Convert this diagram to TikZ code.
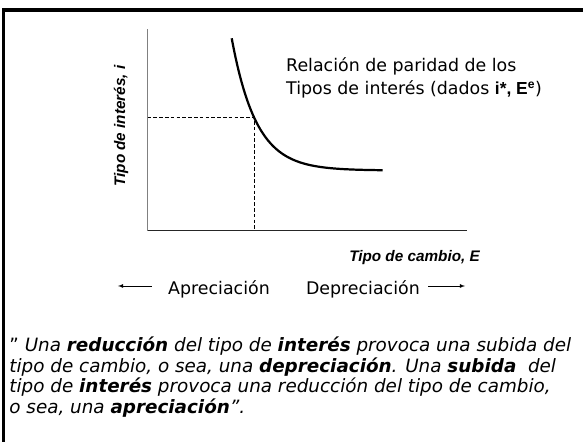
\documentclass[tikz,border=0pt]{standalone}
\usepackage{fontspec}
\setmainfont{DejaVu Sans}
\newfontfamily\arialfont{Liberation Sans}
\usepackage{tikz}

\tikzset{
	axislabel/.style={font=\arialfont\bfseries\itshape\fontsize{14.5}{17}\selectfont, inner sep=0pt},
	bodytext/.style={font=\fontsize{16.5}{21.8}\selectfont, inner sep=0pt, align=left},
	guide/.style={dash pattern=on 3.5pt off 2pt, line width=0.8pt}
}

\begin{document}
\begin{tikzpicture}
	\useasboundingbox (0,0) rectangle (19.433,14.733);
	\begin{scope}
		\clip (0,0) rectangle (19.433,14.733);
		\draw[line width=3.1pt] (0.117,-1) rectangle (21,14.4);
	\end{scope}

	% axes
	\coordinate (origin) at (4.917,7.04);
	\coordinate (ytop) at (4.917,13.75);
	\coordinate (xend) at (15.557,7.04);
	\draw[gray, line width=1.4pt] (ytop) -- (origin);
	\draw[black!85, line width=1.2pt] (origin) -- (xend);

	% parity curve
	\coordinate (eq) at (8.467,10.823);
	\draw[line width=2.1pt] plot[domain=7.723:12.757, samples=80]
		(\x, {9.05+4.407*exp(-1.224*(\x-7.723))});
	\draw[guide] (origin |- eq) -- (eq) -- (eq |- origin);

	% labels (base = last line)
	\draw (4.033,10.533) node[axislabel, rotate=90] (ylab) {Tipo de inter\'es, i}
		(16.0,6.02) node[axislabel, anchor=base east] (xlab) {Tipo de cambio, E}
		(9.533,11.567) node[bodytext, anchor=base west] (rel)
			{Relación de paridad de los\\Tipos de interés (dados {\arialfont\bfseries i*, E\textsuperscript{e}})};

	% appreciation / depreciation
	\draw (5.6,4.9) node[bodytext, anchor=base west] (apre) {Apreciación}
		(14.0,4.9) node[bodytext, anchor=base east] (depre) {Depreciación};
	\coordinate (ltip) at (3.933,5.2);
	\coordinate (rtip) at (15.5,5.2);
	\draw[-latex, line width=0.7pt] (5.057,5.2) -- (ltip);
	\draw[-latex, line width=0.7pt] (14.267,5.2) -- (rtip);

	% statement
	\draw (0.307,0.95) node[bodytext, anchor=base west, font=\fontsize{17.4}{19.5}\selectfont] (quote)
		{" \textit{Una \textbf{reducción} del tipo de \textbf{interés} provoca una subida del}\\
		\textit{tipo de cambio, o sea, una \textbf{depreciación}. Una \textbf{subida}\ \ del}\\
		\textit{tipo de \textbf{interés}\ provoca una reducción del tipo de cambio,}\\
		\textit{o sea, una \textbf{apreciación}".}};
\end{tikzpicture}
\end{document}
